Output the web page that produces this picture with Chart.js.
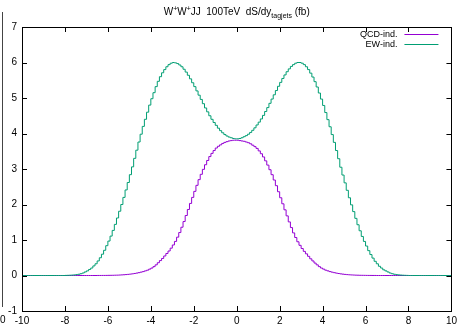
<!DOCTYPE html>
<html lang="en">
<head>
<meta charset="UTF-8">
<title>W+W+JJ 100TeV dS/dy tagjets</title>
<script src="https://cdn.jsdelivr.net/npm/chart.js"></script>
<style>
  html, body { margin: 0; padding: 0; background: #fff; }
  #wrap { width: 461px; height: 325px; }
</style>
</head>
<body>
<div id="wrap"><canvas id="chart" width="461" height="325"></canvas></div>
<script>
// histogram bins: 200 bins of 0.1 from -10 to 10
const binLo = -10;
const binWidth = 0.1;

const qcdInd = [
  0,0,0,0,0,0,0,0,0,0,
  0,0,0,0,0,0,0,0,0,0,
  0,0,0,0,0,0,0,0,0,0,
  0,0,0,0,0,0.001,0.001,0.002,0.002,0.003,
  0.004,0.005,0.006,0.008,0.01,0.013,0.017,0.021,0.026,0.032,
  0.039,0.047,0.057,0.068,0.08,0.095,0.11,0.13,0.15,0.18,
  0.21,0.25,0.3,0.36,0.42,0.48,0.55,0.62,0.69,0.77,
  0.86,0.96,1.08,1.21,1.36,1.52,1.69,1.86,2.03,2.2,
  2.37,2.54,2.7,2.85,2.99,3.12,3.24,3.35,3.44,3.52,
  3.59,3.64,3.68,3.72,3.75,3.77,3.79,3.8,3.81,3.81,
  3.81,3.8,3.79,3.78,3.76,3.74,3.71,3.67,3.63,3.58,
  3.51,3.43,3.34,3.23,3.11,2.98,2.84,2.69,2.53,2.36,
  2.19,2.02,1.85,1.68,1.51,1.35,1.2,1.07,0.95,0.85,
  0.76,0.68,0.61,0.54,0.47,0.41,0.35,0.3,0.25,0.21,
  0.18,0.15,0.13,0.11,0.094,0.08,0.067,0.056,0.046,0.038,
  0.031,0.025,0.02,0.016,0.013,0.01,0.008,0.006,0.005,0.004,
  0.003,0.002,0.002,0.001,0.001,0,0,0,0,0,
  0,0,0,0,0,0,0,0,0,0,
  0,0,0,0,0,0,0,0,0,0,
  0,0,0,0,0,0,0,0,0,0
];

const ewInd = [
  0,0,0,0,0,0,0,0,0,0,
  0,0,0,0,0,0,0,0,0,0,
  0.003,0.005,0.008,0.012,0.017,0.025,0.035,0.05,0.07,0.1,
  0.13,0.17,0.21,0.27,0.33,0.41,0.5,0.6,0.71,0.84,
  0.97,1.11,1.27,1.44,1.62,1.81,2.0,2.2,2.41,2.62,
  2.84,3.06,3.3,3.53,3.76,3.98,4.2,4.4,4.6,4.8,
  4.98,5.15,5.32,5.47,5.6,5.71,5.8,5.88,5.94,5.98,
  6.0,5.99,5.97,5.93,5.88,5.81,5.73,5.64,5.54,5.43,
  5.32,5.2,5.08,4.96,4.84,4.72,4.61,4.5,4.4,4.31,
  4.23,4.15,4.08,4.02,3.97,3.93,3.9,3.88,3.86,3.85,
  3.85,3.86,3.88,3.91,3.94,3.98,4.03,4.09,4.16,4.24,
  4.32,4.41,4.51,4.62,4.73,4.85,4.97,5.09,5.21,5.33,
  5.44,5.55,5.65,5.74,5.82,5.89,5.94,5.98,6.0,6.0,
  5.98,5.94,5.88,5.8,5.7,5.59,5.46,5.31,5.14,4.97,
  4.79,4.59,4.39,4.19,3.97,3.75,3.52,3.29,3.05,2.83,
  2.61,2.4,2.19,1.99,1.8,1.61,1.43,1.26,1.1,0.96,
  0.83,0.7,0.59,0.49,0.4,0.33,0.26,0.21,0.16,0.13,
  0.1,0.07,0.05,0.035,0.025,0.017,0.012,0.008,0.005,0.003,
  0,0,0,0,0,0,0,0,0,0,
  0,0,0,0,0,0,0,0,0,0
];

const seriesNames = ['QCD-ind.', 'EW-ind.'];
const seriesColors = ['#9400d3', '#009e73'];
const xRange = [-10, 10];
const yRange = [-1, 7];
const FONT = '"Liberation Sans", Arial, sans-serif';

// left bin edges, last point closes the final bin
function toSteps(vals) {
  const pts = vals.map((v, i) => ({ x: binLo + i * binWidth, y: v }));
  pts.push({ x: binLo + vals.length * binWidth, y: vals[vals.length - 1] });
  return pts;
}

// gnuplot-like frame with inward ticks on all four sides
const framePlugin = {
  id: 'frame',
  afterDatasetsDraw(chart) {
    const ctx = chart.ctx;
    const a = chart.chartArea;
    const xs = chart.scales.x, ys = chart.scales.y;
    ctx.save();
    ctx.strokeStyle = '#000';
    ctx.lineWidth = 1;
    ctx.beginPath();
    xs.ticks.forEach(t => {
      const px = Math.round(xs.getPixelForValue(t.value)) + 0.5;
      ctx.moveTo(px, a.bottom); ctx.lineTo(px, a.bottom - 5);
      ctx.moveTo(px, a.top); ctx.lineTo(px, a.top + 5);
    });
    ys.ticks.forEach(t => {
      const py = Math.round(ys.getPixelForValue(t.value)) + 0.5;
      ctx.moveTo(a.left, py); ctx.lineTo(a.left + 5, py);
      ctx.moveTo(a.right, py); ctx.lineTo(a.right - 5, py);
    });
    ctx.stroke();
    ctx.strokeRect(Math.round(a.left) + 0.5, Math.round(a.top) + 0.5,
                   Math.round(a.right - a.left), Math.round(a.bottom - a.top));

    // key, top right inside the frame
    ctx.font = '9px ' + FONT;
    ctx.textAlign = 'right';
    ctx.textBaseline = 'middle';
    seriesNames.forEach((name, i) => {
      const y = Math.round(a.top + 7 + i * 10) + 0.5;
      ctx.fillStyle = '#000';
      ctx.fillText(name, a.right - 54, y);
      ctx.beginPath();
      ctx.strokeStyle = seriesColors[i];
      ctx.lineWidth = 1;
      ctx.moveTo(a.right - 47, y);
      ctx.lineTo(a.right - 13, y);
      ctx.stroke();
    });

    // edge of the neighbouring panel
    ctx.strokeStyle = '#444';
    ctx.beginPath();
    ctx.moveTo(2.5, 12); ctx.lineTo(2.5, 307);
    ctx.stroke();
    ctx.fillStyle = '#000';
    ctx.font = '10px ' + FONT;
    ctx.textAlign = 'left';
    ctx.fillText('0', 0, 320);
    ctx.restore();
  }
};

// title with super- and subscripts
const titlePlugin = {
  id: 'richTitle',
  afterDraw(chart) {
    const ctx = chart.ctx;
    const parts = [
      ['W', 0], ['+', 1], ['W', 0], ['+', 1], ['JJ  100TeV  dS/dy', 0], ['tagjets', -1], [' (fb)', 0]
    ];
    const big = '10px ' + FONT, small = '7px ' + FONT;
    ctx.save();
    let w = 0;
    parts.forEach(p => { ctx.font = p[1] ? small : big; w += ctx.measureText(p[0]).width; });
    const a = chart.chartArea;
    let x = (a.left + a.right) / 2 - w / 2;
    const base = 15;
    ctx.fillStyle = '#000';
    ctx.textBaseline = 'alphabetic';
    ctx.textAlign = 'left';
    parts.forEach(p => {
      ctx.font = p[1] ? small : big;
      const y = p[1] === 1 ? base - 4 : (p[1] === -1 ? base + 3 : base);
      ctx.fillText(p[0], x, y);
      x += ctx.measureText(p[0]).width;
    });
    ctx.restore();
  }
};

new Chart(document.getElementById('chart'), {
  type: 'line',
  data: {
    datasets: [
      { label: seriesNames[0], data: toSteps(qcdInd), borderColor: seriesColors[0],
        borderWidth: 1, pointRadius: 0, stepped: true, fill: false, order: 1 },
      { label: seriesNames[1], data: toSteps(ewInd), borderColor: seriesColors[1],
        borderWidth: 1, pointRadius: 0, stepped: true, fill: false, order: 0 }
    ]
  },
  options: {
    responsive: false,
    animation: false,
    devicePixelRatio: 1,
    layout: { padding: { top: 27, right: 7, left: 0, bottom: 0 } },
    plugins: { legend: { display: false }, title: { display: false }, tooltip: { enabled: false } },
    scales: {
      x: {
        type: 'linear', min: xRange[0], max: xRange[1],
        grid: { display: false, drawTicks: false },
        border: { display: false },
        ticks: { stepSize: 2, color: '#000', font: { size: 10, family: FONT }, padding: 4, maxRotation: 0 },
        afterFit(s) { s.height = 14; }
      },
      y: {
        min: yRange[0], max: yRange[1],
        grid: { display: false, drawTicks: false },
        border: { display: false },
        ticks: { stepSize: 1, color: '#000', font: { size: 10, family: FONT }, padding: 5 },
        afterFit(s) { s.width = 22; }
      }
    }
  },
  plugins: [framePlugin, titlePlugin]
});
</script>
</body>
</html>
